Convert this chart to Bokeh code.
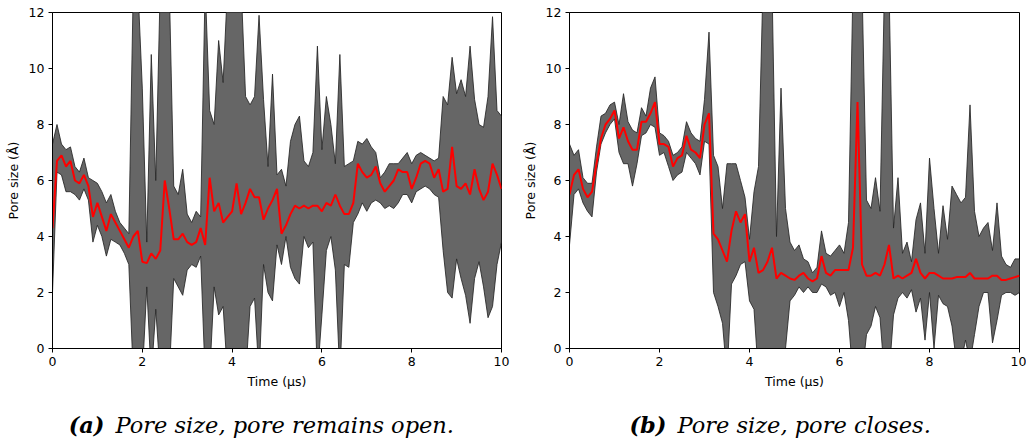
import numpy as np
from bokeh.plotting import figure
from bokeh.layouts import column, row
from bokeh.models import Range1d, FixedTicker
from bokeh.core.properties import value
from bokeh.embed import file_html
from bokeh.resources import INLINE

# time axis (microseconds), 0.1 us sampling
time_us = [round(0.1 * i, 1) for i in range(101)]

# ---- panel (a): pore remains open ----
a_upper = [7.3, 8.0, 7.3, 7.1, 7.2, 6.5, 6.3, 6.8, 6.1, 6.0,
           5.9, 5.6, 5.2, 5.5, 4.9, 4.5, 4.3, 4.1, 13, 13,
           9.3, 3.8, 10.5, 6.0, 13, 13, 13, 5.8, 5.5, 6.4,
           4.8, 4.5, 4.9, 4.7, 13, 8.5, 8.0, 11.0, 9.5, 13,
           13, 13, 13, 9.0, 8.7, 9.0, 11.9, 8.9, 6.5, 9.8,
           6.2, 6.4, 5.8, 7.4, 8.0, 8.3, 6.7, 6.5, 7.0, 10.8,
           7.1, 9.0, 8.0, 6.6, 10.5, 6.5, 6.6, 6.7, 7.4, 7.3,
           7.5, 7.2, 7.0, 6.1, 6.3, 6.6, 6.6, 6.6, 6.8, 7.0,
           6.6, 6.9, 7.0, 6.9, 6.8, 6.7, 6.8, 9.0, 8.7, 10.4,
           9.1, 9.6, 9.0, 10.8, 8.9, 8.0, 7.9, 9.0, 11.85, 8.5, 8.3]
a_lower = [2.0, 6.3, 6.2, 5.6, 5.6, 5.5, 5.3, 5.7, 5.3, 3.8,
           4.4, 4.0, 3.3, 3.9, 3.8, 3.7, 3.4, 3.0, -1, -1,
           -1, 2.2, -1, 1.4, -1, -1, -1, 2.5, 2.2, 1.9,
           2.8, 3.0, 2.9, 3.3, -1, -1, 2.2, 1.2, 1.5, -1,
           -1, -1, -1, -1, 1.5, 1.8, -1, 3.0, 2.0, 1.7,
           3.7, 3.0, 4.0, 2.9, 2.5, 2.3, 4.0, 3.6, 3.8, -1,
           1.2, 3.5, 4.0, 2.8, -1, 3.0, 2.9, 4.5, 4.8, 5.2,
           4.9, 5.2, 5.3, 5.2, 5.0, 5.1, 5.0, 5.2, 5.5, 5.5,
           5.2, 5.6, 5.7, 5.8, 5.7, 5.5, 5.4, 3.5, 2.0, 1.8,
           3.2, 2.5, 1.9, 0.9, 2.5, 3.1, 2.2, 1.1, 1.5, 3.0, 3.8]
a_mean = [4.3, 6.7, 6.9, 6.5, 6.7, 6.0, 5.9, 6.2, 5.8, 4.7,
          5.2, 4.7, 4.2, 4.8, 4.5, 4.2, 3.9, 3.6, 4.0, 4.2,
          3.1, 3.05, 3.4, 3.2, 3.5, 6.0, 5.0, 3.9, 3.9, 4.1,
          3.8, 3.7, 3.8, 4.3, 3.7, 6.1, 4.9, 5.2, 4.5, 4.7,
          4.9, 5.9, 4.8, 5.2, 5.7, 5.4, 5.4, 4.6, 5.0, 5.3,
          5.7, 4.1, 4.4, 4.8, 5.1, 5.0, 5.1, 5.0, 5.1, 5.1,
          4.9, 5.2, 5.1, 5.5, 5.1, 4.8, 4.8, 5.2, 6.6, 6.3,
          6.1, 6.2, 6.5, 5.9, 5.6, 5.8, 6.0, 6.4, 6.3, 6.3,
          5.7, 6.1, 6.6, 6.7, 6.6, 6.1, 6.4, 5.6, 5.7, 7.2,
          5.8, 5.7, 5.9, 5.5, 6.4, 5.7, 5.3, 5.6, 6.6, 6.2, 5.7]

# ---- panel (b): pore closes ----
b_upper = [7.3, 6.9, 7.1, 6.1, 5.9, 5.9, 7.2, 8.3, 8.4, 8.7,
           8.8, 8.0, 9.1, 8.1, 7.8, 7.7, 8.6, 8.3, 9.3, 9.7,
           7.7, 7.6, 7.4, 6.9, 7.0, 7.2, 8.1, 7.7, 7.5, 7.4,
           8.9, 11.3, 6.9, 6.5, 5.0, 6.6, 6.6, 6.6, 6.0, 5.4,
           3.9, 5.6, 6.5, 13, 13, 13, 4.0, 9.3, 5.0, 3.8,
           3.5, 3.7, 3.2, 3.1, 2.7, 2.9, 4.2, 3.4, 3.3, 3.5,
           3.7, 3.4, 4.5, 13, 13, 13, 5.3, 5.0, 6.1, 4.9,
           13, 13, 4.3, 6.1, 3.4, 3.8, 3.1, 4.6, 5.2, 3.4,
           6.8, 5.0, 3.4, 5.1, 3.9, 5.8, 5.5, 5.2, 5.4, 8.7,
           4.9, 4.0, 4.3, 4.5, 3.5, 5.2, 3.3, 3.0, 2.9, 3.2, 3.2]
b_lower = [3.7, 5.5, 5.7, 5.2, 4.9, 4.7, 6.3, 7.3, 7.7, 8.0,
           8.2, 7.0, 6.6, 6.6, 5.8, 6.6, 7.6, 7.7, 8.0, 7.9,
           6.9, 7.0, 6.5, 6.0, 6.2, 6.3, 7.0, 6.8, 6.6, 6.2,
           7.4, 7.3, 2.0, 1.5, 0.9, -1, 2.3, 2.6, 3.0, 3.1,
           1.7, 1.4, -1, -1, -1, -1, -1, -1, 0.0, 1.7,
           1.9, 2.2, 2.0, 2.2, 2.0, 2.0, 2.3, 2.2, 1.9, 2.0,
           1.5, 2.0, 1.0, -1, -1, -1, 0.5, 0.8, 1.5, 1.1,
           -1, -1, 1.2, 1.8, 2.0, 1.8, 2.1, 1.3, 1.8, 0.3,
           2.0, 0.0, 1.9, 1.6, 1.5, 0.8, -0.5, -0.5, 0.3, -0.5,
           0.5, 1.5, 2.0, 2.0, 0.2, 1.0, 1.9, 2.0, 2.0, 1.9, 2.0]
b_mean = [5.5, 6.2, 6.4, 5.7, 5.4, 5.6, 6.6, 7.5, 8.0, 8.2,
          8.5, 7.5, 7.9, 7.4, 7.1, 7.1, 8.1, 8.1, 8.4, 8.8,
          7.3, 7.3, 7.2, 6.5, 6.8, 6.9, 7.6, 7.1, 7.0, 6.8,
          8.0, 8.4, 4.1, 3.9, 3.5, 3.1, 4.2, 4.9, 4.5, 4.8,
          3.1, 3.6, 2.7, 2.8, 3.1, 3.6, 2.5, 2.7, 2.6, 2.5,
          2.45, 2.6, 2.7, 2.5, 2.4, 2.5, 3.3, 2.7, 2.6, 2.8,
          2.8, 2.8, 2.8, 3.6, 8.8, 3.0, 2.6, 2.6, 2.7, 2.6,
          3.0, 3.7, 2.5, 2.6, 2.5, 2.6, 2.7, 3.2, 2.7, 2.5,
          2.7, 2.7, 2.6, 2.5, 2.5, 2.5, 2.55, 2.55, 2.55, 2.7,
          2.5, 2.5, 2.5, 2.5, 2.6, 2.6, 2.45, 2.45, 2.5, 2.55, 2.6]

x_ticks = [0, 2, 4, 6, 8, 10]
y_ticks = [0, 2, 4, 6, 8, 10, 12]
x_label = "Time (\u03bcs)"
y_label = "Pore size (\u00c5)"
captions = [("(a)", "Pore size, pore remains open."), ("(b)", "Pore size, pore closes.")]

FONT = "DejaVu Sans"


def make_panel(upper, lower, mean, width, border_left, border_right):
    p = figure(width=width, height=392, x_range=Range1d(0, 10), y_range=Range1d(0, 12),
               output_backend="svg", toolbar_location=None,
               min_border_left=border_left, min_border_right=border_right,
               min_border_top=12, min_border_bottom=44)
    p.varea(x=time_us, y1=lower, y2=upper, fill_color="#666666", fill_alpha=1.0)
    p.line(time_us, upper, line_color="#262626", line_width=1, line_alpha=0.85)
    p.line(time_us, lower, line_color="#262626", line_width=1, line_alpha=0.85)
    p.line(time_us, mean, line_color="#ff0000", line_width=2)
    p.xgrid.visible = False
    p.ygrid.visible = False
    p.outline_line_color = "black"
    p.outline_line_width = 1
    p.outline_line_alpha = 1
    p.xaxis.ticker = FixedTicker(ticks=x_ticks)
    p.yaxis.ticker = FixedTicker(ticks=y_ticks)
    p.xaxis.axis_label = x_label
    p.yaxis.axis_label = y_label
    for ax in (p.xaxis, p.yaxis):
        ax.axis_line_color = "black"
        ax.major_tick_line_color = "black"
        ax.major_tick_out = 4
        ax.major_tick_in = 0
        ax.minor_tick_line_color = None
        ax.major_label_text_font = FONT
        ax.major_label_text_font_size = "12.5px"
        ax.major_label_text_color = "black"
        ax.major_label_standoff = 4
        ax.axis_label_text_font = FONT
        ax.axis_label_text_font_size = "12.5px"
        ax.axis_label_text_font_style = "normal"
        ax.axis_label_text_color = "black"
        ax.axis_label_standoff = 5
    return p


pa = make_panel(a_upper, a_lower, a_mean, 513, 52, 12)
pb = make_panel(b_upper, b_lower, b_mean, 513, 56, 7)

cap = figure(width=1026, height=47, x_range=Range1d(0, 1026), y_range=Range1d(0, 47),
             output_backend="svg", toolbar_location=None,
             min_border=0, min_border_left=0, min_border_right=0,
             min_border_top=0, min_border_bottom=0)
cap.axis.visible = False
cap.xgrid.visible = False
cap.ygrid.visible = False
cap.outline_line_color = None
cap.text(x=[104, 666], y=[15, 15], text=[c[0] for c in captions],
         text_font=value("DejaVu Serif"), text_font_style="bold italic",
         text_font_size="22.5px", text_align="right", text_baseline="middle",
         text_color="black")
cap.text(x=[115, 677], y=[15, 15], text=[c[1] for c in captions],
         text_font=value("DejaVu Serif"), text_font_style="italic",
         text_font_size="22.5px", text_align="left", text_baseline="middle",
         text_color="black")

layout = column(row(pa, pb), cap)
open("out.html", "w").write(file_html(layout, INLINE))
